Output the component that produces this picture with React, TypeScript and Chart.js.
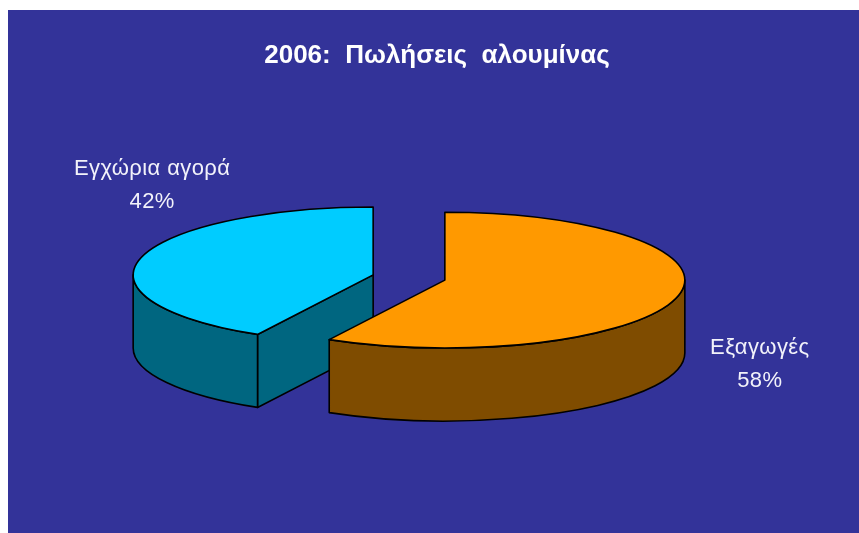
import React, { useEffect, useRef } from "react";
import { Chart, registerables } from "chart.js";

Chart.register(...registerables);

const categories = ["Εξαγωγές", "Εγχώρια αγορά"];
const shares = [58, 42];
const faceColors = ["#FF9900", "#00CCFF"];
const wallColors = ["#7F4C00", "#006680"];
const chartTitle = "2006:  Πωλήσεις  αλουμίνας";

const NAVY = "#333399";
const RADIUS = 240;
const TILT = 0.283;
const DEPTH = 73;
const EXPLODE = 37;
const CENTER_X = 401;
const CENTER_Y = 267.5;

// Pixel shift of each caption from the centre of its slice.
const captionShift = [
  { dx: 315, dy: 84 },
  { dx: -221, dy: -90 },
];

function sliceOrigin(arc: any) {
  const mid = (arc.startAngle + arc.endAngle) / 2;
  return {
    x: arc.x + Math.cos(mid) * EXPLODE,
    y: arc.y + Math.sin(mid) * EXPLODE * TILT,
  };
}

// Tilted pie: each slice is pulled out along its mid angle, given side walls,
// then its face is drawn by the arc element under a squashed transform.
const tiltedPie = {
  id: "tiltedPie",
  afterLayout(chart: any) {
    const half = RADIUS + EXPLODE;
    chart.chartArea = {
      left: CENTER_X - half,
      right: CENTER_X + half,
      top: CENTER_Y - half,
      bottom: CENTER_Y + half,
      width: half * 2,
      height: half * 2,
    };
  },
  beforeDatasetDraw(chart: any, args: any) {
    const ctx: CanvasRenderingContext2D = chart.ctx;
    const arcs = args.meta.data;
    const order = arcs.map((_: any, i: number) => i).reverse();
    ctx.save();
    ctx.lineWidth = 1.6;
    ctx.strokeStyle = "#000000";
    ctx.lineJoin = "round";

    for (const i of order) {
      const arc = arcs[i];
      const o = sliceOrigin(arc);
      const rx = arc.outerRadius;
      const ry = rx * TILT;
      ctx.fillStyle = wallColors[i];

      const cutFace = (angle: number) => {
        const ex = o.x + Math.cos(angle) * rx;
        const ey = o.y + Math.sin(angle) * ry;
        ctx.beginPath();
        ctx.moveTo(o.x, o.y);
        ctx.lineTo(ex, ey);
        ctx.lineTo(ex, ey + DEPTH);
        ctx.lineTo(o.x, o.y + DEPTH);
        ctx.closePath();
        ctx.fill();
        ctx.stroke();
      };
      if (-Math.cos(arc.startAngle) > 1e-6) cutFace(arc.startAngle);
      if (Math.cos(arc.endAngle) > 1e-6) cutFace(arc.endAngle);

      // Outer wall: only the part of the rim on the viewer's side.
      const from = Math.max(arc.startAngle, 0);
      const to = Math.min(arc.endAngle, Math.PI);
      if (to > from) {
        ctx.beginPath();
        ctx.ellipse(o.x, o.y, rx, ry, 0, from, to);
        ctx.ellipse(o.x, o.y + DEPTH, rx, ry, 0, to, from, true);
        ctx.closePath();
        ctx.fill();
        ctx.stroke();
      }
    }

    for (const i of order) {
      const arc = arcs[i];
      const o = sliceOrigin(arc);
      ctx.save();
      ctx.translate(o.x, o.y);
      ctx.scale(1, TILT);
      ctx.translate(-arc.x, -arc.y);
      arc.draw(ctx);
      ctx.restore();

      ctx.beginPath();
      ctx.moveTo(o.x, o.y);
      ctx.ellipse(o.x, o.y, arc.outerRadius, arc.outerRadius * TILT, 0, arc.startAngle, arc.endAngle);
      ctx.closePath();
      ctx.stroke();
    }
    ctx.restore();
    return false;
  },
  afterDatasetsDraw(chart: any) {
    const ctx: CanvasRenderingContext2D = chart.ctx;
    ctx.save();
    ctx.fillStyle = "#F2F2FA";
    ctx.font = "22px 'Liberation Sans'";
    ctx.textAlign = "center";
    ctx.textBaseline = "middle";
    (ctx as any).letterSpacing = "0.4px";
    chart.getDatasetMeta(0).data.forEach((arc: any, i: number) => {
      const o = sliceOrigin(arc);
      const x = o.x + captionShift[i].dx;
      const y = o.y + captionShift[i].dy;
      ctx.fillText(categories[i], x, y - 16);
      ctx.fillText(`${shares[i]}%`, x, y + 17);
    });
    ctx.restore();
  },
};

export default function App() {
  const ref = useRef<HTMLCanvasElement>(null);

  useEffect(() => {
    const chart = new Chart(ref.current!, {
      type: "pie",
      data: {
        labels: categories,
        datasets: [
          {
            data: shares,
            backgroundColor: faceColors,
            borderWidth: 0,
          },
        ],
      },
      options: {
        animation: false,
        responsive: false,
        radius: RADIUS,
        layout: { padding: { left: 7 } },
        plugins: {
          legend: { display: false },
          tooltip: { enabled: false },
          title: {
            display: true,
            text: chartTitle,
            color: "#FFFFFF",
            font: { family: "'Liberation Sans'", size: 26, weight: "bold" },
            padding: { top: 30, bottom: 10 },
          },
        },
      },
      plugins: [tiltedPie],
    } as any);
    return () => chart.destroy();
  }, []);

  return (
    <canvas
      ref={ref}
      width={851}
      height={523}
      style={{ position: "absolute", left: 8, top: 10, width: 851, height: 523, background: NAVY, display: "block" }}
    />
  );
}
